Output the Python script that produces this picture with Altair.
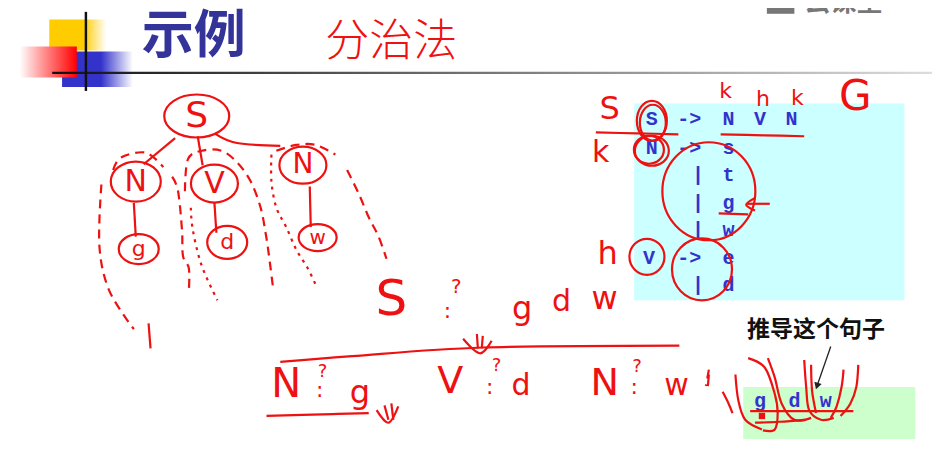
import altair as alt
import pandas as pd

# ---------------- data (pixel space 940 x 450) ----------------
title_text = "示例"
note_text = "分治法"
caption_text = "推导这个句子"
watermark_text = "云课堂"

# grammar rules printed in the cyan box
gram_tokens = ["S", "->", "N", "V", "N",
               "N", "->", "s",
               "|", "t",
               "|", "g",
               "|", "w",
               "V", "->", "e",
               "|", "d"]
gram_x = [655, 693, 733, 765, 797,
          655, 693, 733,
          702, 733,
          702, 733,
          702, 733,
          652, 693, 733,
          702, 733]
gram_y = [115, 115, 115, 115, 115,
          145, 145, 145,
          173, 173,
          202, 202,
          230, 230,
          259, 259, 259,
          287, 287]

# the sentence in the green box
sent_tokens = ["g", "d", "w"]
sent_x = [765, 800, 832]
sent_y = [407, 407, 407]

# red handwritten letters
hand_text = ["S", "N", "V", "N", "g", "d", "w",
             "S", "?", ":", "g", "d", "w",
             "N", "?", ":", "g",
             "V", "?", ":", "d",
             "N", "?", ":", "w",
             "S", "k", "k", "h", "k", "G", "h"]
hand_x = [192, 130, 210, 300, 133, 223, 315,
          390, 456, 447, 523, 563, 607,
          283, 320, 317, 358,
          450, 497, 490, 522,
          607, 640, 637, 680,
          612, 603, 730, 768, 803, 862, 610]
hand_y = [112, 180, 182, 163, 250, 243, 238,
          303, 289, 314, 312, 305, 302,
          391, 377, 396, 399,
          388, 371, 393, 392,
          390, 372, 393, 392,
          105, 150, 86, 94, 93, 92, 255]
hand_size = [36, 30, 30, 28, 22, 22, 20,
             50, 20, 22, 32, 30, 32,
             40, 18, 22, 32,
             38, 18, 22, 30,
             38, 18, 22, 30,
             32, 30, 22, 22, 22, 42, 32]

# red hand-drawn ellipses (centre, width, height)
ell_cx = [192, 130, 210, 300, 133, 223, 315, 655, 656, 652, 655, 713, 650, 706]
ell_cy = [112, 180, 182, 163, 250, 243, 238, 117, 119, 147, 148, 190, 258, 271]
ell_w = [65, 50, 47, 47, 40, 40, 38, 30, 26, 30, 34, 93, 35, 60]
ell_h = [43, 40, 38, 37, 30, 33, 27, 40, 36, 28, 30, 98, 36, 62]

# red solid strokes
solid_strokes = [
    [(170, 135), (138, 162)],
    [(193, 133), (198, 163)],
    [(210, 130), (233, 140), (277, 143)],
    [(128, 202), (130, 237)],
    [(210, 202), (212, 233)],
    [(307, 185), (308, 227)],
    [(143, 327), (145, 353)],
    [(277, 367), (350, 361), (483, 352), (683, 350)],
    [(263, 423), (330, 421), (367, 420)],
    [(477, 338), (478, 353)],
    [(483, 340), (482, 353)],
    [(463, 343), (480, 358), (492, 345)],
    [(383, 412), (387, 427)],
    [(390, 410), (392, 427)],
    [(375, 417), (387, 430), (397, 413)],
    [(713, 380), (712, 392)],
    [(598, 129), (640, 130), (682, 131)],
    [(725, 131), (770, 132), (810, 133)],
    [(723, 213), (753, 214)],
    [(775, 203), (752, 203)],
    [(760, 197), (751, 204), (760, 210)],
    [(727, 398), (733, 410), (737, 420)],
    [(740, 380), (743, 407), (750, 427), (767, 437)],
    [(753, 363), (770, 373), (780, 400), (783, 420), (780, 437), (768, 438)],
    [(773, 363), (780, 383), (787, 410), (800, 427), (817, 425)],
    [(810, 365), (812, 393), (815, 417), (827, 427), (840, 425)],
    [(817, 370), (818, 397), (822, 420)],
    [(850, 375), (848, 393), (843, 413), (837, 425)],
    [(865, 370), (863, 393), (857, 410), (847, 423)],
    [(755, 418), (810, 418), (860, 418)],
    [(760, 430), (785, 429), (810, 427)],
]

# red dashed strokes
dashed_strokes = [
    [(107, 168), (115, 155), (140, 150), (158, 165)],
    [(95, 183), (93, 247), (103, 293), (128, 333)],
    [(167, 175), (173, 190), (177, 230), (178, 257), (184, 270), (184, 293)],
    [(180, 190), (183, 157), (197, 148), (217, 148), (233, 160), (247, 180),
     (257, 207), (262, 233), (265, 253), (270, 293)],
    [(273, 148), (293, 142), (313, 142), (333, 152)],
    [(345, 168), (357, 193), (367, 217), (377, 237), (385, 260)],
    [(713, 375), (710, 392)],
]

# red dotted strokes
dotted_strokes = [
    [(186, 207), (188, 230), (197, 267), (213, 303)],
    [(268, 152), (268, 180), (273, 207), (283, 227), (293, 250), (305, 270), (313, 287)],
]

# boxes behind the text
box_x0 = [637, 748]
box_x1 = [912, 923]
box_y0 = [99, 393]
box_y1 = [303, 447]
box_color = ["#CCFFFF", "#CCFFCC"]

# black pointer arrow
arrow_x = [837, 823]
arrow_y = [351, 392]

RED = "#EE1111"
BLUE = "#3333CC"


def X(field="x"):
    return alt.X(f"{field}:Q", scale=alt.Scale(domain=[0, 940], nice=False, zero=False), axis=None)


def Y(field="y"):
    return alt.Y(f"{field}:Q", scale=alt.Scale(domain=[0, 450], nice=False, zero=False, reverse=True),
                 axis=None)


def strokes_df(strokes):
    rows = []
    for i, s in enumerate(strokes):
        for j, (x, y) in enumerate(s):
            rows.append({"id": i, "o": j, "x": x, "y": y})
    return pd.DataFrame(rows)


def ellipse_path(w, h):
    if w >= h:
        rx, ry = 1, h / w
    else:
        rx, ry = w / h, 1
    return f"M{-rx},0A{rx},{ry} 0 1 1 {rx},0A{rx},{ry} 0 1 1 {-rx},0Z"


def grad(stops, horizontal=True):
    return alt.LinearGradient(
        gradient="linear",
        stops=[alt.GradientStop(color=c, offset=o) for o, c in stops],
        x1=0, x2=1 if horizontal else 0, y1=0, y2=0 if horizontal else 1,
    )


def rect_layer(x0, x1, y0, y1, fill):
    df = pd.DataFrame({"x": [x0], "x2": [x1], "y": [y0], "y2": [y1]})
    return alt.Chart(df).mark_rect(fill=fill).encode(x=X(), x2="x2:Q", y=Y(), y2="y2:Q")


# ---------------- slide header decoration ----------------
yellow = rect_layer(42, 100, 12, 44, grad([(0, "#FFCC00"), (0.6, "#FFCC00"), (1, "#FFFFFF")]))
blue = rect_layer(55, 127, 45, 82, grad([(0, "#3333CC"), (0.55, "#3333CC"), (1, "#FFFFFF")]))
red = rect_layer(12, 70, 40, 72, grad([(0, "#FFFFFF"), (0.45, "#FF8888"), (1, "#FF0000")]))
hline = rect_layer(45, 940, 66, 68.5, grad([(0, "#111111"), (0.5, "#777777"), (1, "#DDDDDD")]))
vline = rect_layer(78, 80.5, 4, 86, "#111111")

head_df = pd.DataFrame({"t": [title_text], "x": [189], "y": [30]})
title = alt.Chart(head_df).mark_text(
    font="Noto Sans CJK SC", fontSize=52, fontWeight="bold", color="#333399",
    align="center", baseline="middle"
).encode(x=X(), y=Y(), text="t:N")

note_df = pd.DataFrame({"t": [note_text], "x": [390], "y": [36]})
note = alt.Chart(note_df).mark_text(
    font="Noto Sans CJK SC", fontSize=44, fontWeight=300, color=RED,
    align="center", baseline="middle"
).encode(x=X(), y=Y(), text="t:N")

wm_df = pd.DataFrame({"t": [watermark_text], "x": [850], "y": [8]})
watermark = alt.Chart(wm_df).mark_text(
    font="Noto Sans CJK SC", fontSize=26, fontWeight="bold", color="#777777",
    align="center", baseline="bottom"
).encode(x=X(), y=Y(), text="t:N")
wm_icon = rect_layer(772, 800, 0, 6, "#777777")

# ---------------- boxes and printed text ----------------
box_df = pd.DataFrame({"x": box_x0, "x2": box_x1, "y": box_y0, "y2": box_y1, "c": box_color})
boxes = alt.Chart(box_df).mark_rect().encode(
    x=X(), x2="x2:Q", y=Y(), y2="y2:Q", color=alt.Color("c:N", scale=None)
)

gram_df = pd.DataFrame({"t": gram_tokens + sent_tokens, "x": gram_x + sent_x, "y": gram_y + sent_y})
grammar = alt.Chart(gram_df).mark_text(
    font="Liberation Mono", fontSize=20, fontWeight="bold", color=BLUE,
    align="center", baseline="middle"
).encode(x=X(), y=Y(), text="t:N")

cap_df = pd.DataFrame({"t": [caption_text], "x": [822], "y": [334]})
caption = alt.Chart(cap_df).mark_text(
    font="Noto Sans CJK SC", fontSize=23, fontWeight="bold", color="#111111",
    align="center", baseline="middle"
).encode(x=X(), y=Y(), text="t:N")

arr_df = pd.DataFrame({"x": arrow_x, "y": arrow_y, "o": [0, 1]})
arrow_line = alt.Chart(arr_df).mark_line(color="#222222", strokeWidth=1.3).encode(
    x=X(), y=Y(), order="o:Q"
)
arrow_head = alt.Chart(arr_df.iloc[[1]]).mark_point(
    shape="triangle-down", filled=True, color="#222222", size=60, angle=18, opacity=1
).encode(x=X(), y=Y())

# ---------------- red handwriting ----------------
hand_df = pd.DataFrame({"t": hand_text, "x": hand_x, "y": hand_y, "s": hand_size})
hand = alt.Chart(hand_df).mark_text(
    font="DejaVu Sans", fontWeight="normal", color=RED, align="center", baseline="middle"
).encode(x=X(), y=Y(), text="t:N", size=alt.Size("s:Q", scale=None))

ell_df = pd.DataFrame({"x": ell_cx, "y": ell_cy, "w": ell_w, "h": ell_h})
ell_df["path"] = [ellipse_path(w, h) for w, h in zip(ell_w, ell_h)]
ell_df["size"] = [max(w, h) ** 2 for w, h in zip(ell_w, ell_h)]
ellipses = alt.Chart(ell_df).mark_point(filled=False, color=RED, strokeWidth=2.2, opacity=1).encode(
    x=X(), y=Y(),
    shape=alt.Shape("path:N", scale=None),
    size=alt.Size("size:Q", scale=None),
)


def stroke_layer(strokes, dash=None):
    kw = {"color": RED, "strokeWidth": 2.2, "interpolate": "cardinal"}
    if dash:
        kw["strokeDash"] = dash
    return alt.Chart(strokes_df(strokes)).mark_line(**kw).encode(
        x=X(), y=Y(), detail="id:N", order="o:Q"
    )


solid = stroke_layer(solid_strokes)
dashed = stroke_layer(dashed_strokes, [9, 6])
dotted = stroke_layer(dotted_strokes, [3, 5])

red_dot = alt.Chart(pd.DataFrame({"x": [767], "y": [423]})).mark_point(
    shape="square", filled=True, color=RED, size=40, opacity=1
).encode(x=X(), y=Y())

chart = alt.layer(
    boxes, yellow, blue, red, hline, vline, title, note, watermark, wm_icon,
    grammar, caption, arrow_line, arrow_head,
    ellipses, solid, dashed, dotted, red_dot, hand,
).properties(
    width=924, height=434, padding=0, autosize=alt.AutoSizeParams(type="none"),
    background="white",
).configure_view(stroke=None)

chart.save("out.html", embed_options={"renderer": "svg", "actions": False})
